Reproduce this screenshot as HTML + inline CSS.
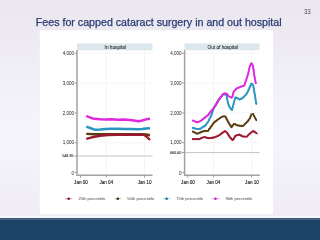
<!DOCTYPE html>
<html><head><meta charset="utf-8">
<style>
html,body{margin:0;padding:0;width:320px;height:240px;overflow:hidden;background:#eeecf3;}
svg{display:block;position:absolute;left:0;top:0;will-change:transform;}
text{font-family:"Liberation Sans",sans-serif;}
</style></head>
<body>
<svg width="320" height="240" viewBox="0 0 320 240">
<defs>
<linearGradient id="bg" x1="0" y1="0" x2="0" y2="1">
<stop offset="0" stop-color="#eae7ee"/><stop offset="0.2" stop-color="#eeebf2"/><stop offset="0.45" stop-color="#f5f3fa"/><stop offset="0.62" stop-color="#f6f4fb"/><stop offset="0.85" stop-color="#f0eef4"/><stop offset="1" stop-color="#eeecf2"/>
</linearGradient>
</defs>
<rect x="0" y="0" width="320" height="240" fill="url(#bg)"/>
<text x="304.3" y="14" font-size="7.6" fill="#444" textLength="6.3" lengthAdjust="spacingAndGlyphs">33</text>
<text x="35.8" y="26" font-size="10.66" fill="#283a74" stroke="#283a74" stroke-width="0.25">Fees for capped cataract surgery in and out hospital</text>
<rect x="39.8" y="30.3" width="233.2" height="183.8" fill="#ffffff"/>
<!-- bottom band -->
<rect x="0" y="216.6" width="320" height="1.2" fill="#fbfafd"/>
<rect x="0" y="218.2" width="320" height="1.4" fill="#10305a"/>
<rect x="0" y="219.6" width="320" height="20.4" fill="#1b4367"/>

<!-- LEFT PANEL -->
<g id="left">
<rect x="77" y="43.4" width="75.5" height="6.9" fill="#dbe7ed"/>
<text x="115.3" y="48.9" font-size="4.7" text-anchor="middle" fill="#222" stroke="#222" stroke-width="0.06">In hospital</text>
<g stroke="#eeeeee" stroke-width="0.6">
<line x1="77" y1="53.3" x2="152.5" y2="53.3"/>
<line x1="77" y1="83.1" x2="152.5" y2="83.1"/>
<line x1="77" y1="113" x2="152.5" y2="113"/>
<line x1="77" y1="142.7" x2="152.5" y2="142.7"/>
<line x1="106" y1="50" x2="106" y2="175"/>
<line x1="144.5" y1="50" x2="144.5" y2="175"/>
</g>
<line x1="77" y1="156" x2="152.5" y2="156" stroke="#b4b4b4" stroke-width="0.8"/>
<g stroke="#888888" stroke-width="0.8" fill="none">
<polyline stroke="#a2a2a2" stroke-width="1.5" points="77,50 77,175.3 152.5,175.3"/>
<line x1="74.5" y1="53.3" x2="76.8" y2="53.3"/>
<line x1="74.5" y1="83.1" x2="76.8" y2="83.1"/>
<line x1="74.5" y1="113" x2="76.8" y2="113"/>
<line x1="74.5" y1="142.7" x2="76.8" y2="142.7"/>
<line x1="74.5" y1="156" x2="76.8" y2="156"/>
<line x1="74.5" y1="172.4" x2="76.8" y2="172.4"/>
<line x1="80.5" y1="175.5" x2="80.5" y2="177.5"/>
<line x1="106.3" y1="175.5" x2="106.3" y2="177.5"/>
<line x1="144.5" y1="175.5" x2="144.5" y2="177.5"/>
</g>
<g font-size="4.5" fill="#222" text-anchor="end">
<text x="74" y="55">4,000</text>
<text x="74" y="84.8">3,000</text>
<text x="74" y="114.7">2,000</text>
<text x="74" y="144.4">1,000</text>
<text x="73.5" y="157.3" font-size="3.7" stroke="#222" stroke-width="0.06">548.85</text>
<text x="74" y="174.6">0</text>
</g>
<g font-size="4.6" fill="#222" stroke="#222" stroke-width="0.12" text-anchor="middle">
<text x="81" y="183.8">Jan 00</text>
<text x="106.3" y="183.8">Jan 04</text>
<text x="144.6" y="183.8">Jan 10</text>
</g>
<g fill="none" stroke-width="2.4" stroke-linejoin="round" stroke-linecap="butt">
<polyline stroke="#5b3d12" points="86.3,133.9 95,134.2 105,134.2 115,134.2 125,134.2 135,134.3 142,134.3 146,134.5 150,135.2"/>
<polyline stroke="#9a1830" points="86.3,138.8 92,137.3 100,135.8 108,135 118,134.8 128,134.7 138,134.6 144,134.8 147,137 150,140"/>
<polyline stroke="#2895c2" points="86.3,126.7 90,128 94.7,129.7 100,129.5 106,129 112,128.7 118,128.8 124,129 130,129 138,129.2 142,129 146,128.5 150,128.3"/>
<polyline stroke="#df27de" points="86.3,115.8 90,117.5 94,118.8 100,119.3 106,119.5 112,119.3 118,119.7 124,119.5 130,120 134,120.5 138.3,121.3 142,120.5 146,119.3 150,118.8"/>
</g>
</g>

<!-- RIGHT PANEL -->
<g id="right">
<rect x="184.5" y="43.4" width="75" height="6.9" fill="#dbe7ed"/>
<text x="222.7" y="48.9" font-size="4.7" text-anchor="middle" fill="#222" stroke="#222" stroke-width="0.06">Out of hospital</text>
<g stroke="#eeeeee" stroke-width="0.6">
<line x1="184" y1="53.3" x2="259.5" y2="53.3"/>
<line x1="184" y1="83.1" x2="259.5" y2="83.1"/>
<line x1="184" y1="113" x2="259.5" y2="113"/>
<line x1="184" y1="142.7" x2="259.5" y2="142.7"/>
<line x1="213.5" y1="50" x2="213.5" y2="175"/>
<line x1="251.6" y1="50" x2="251.6" y2="175"/>
</g>
<line x1="184" y1="152.6" x2="259.5" y2="152.6" stroke="#b4b4b4" stroke-width="0.8"/>
<g stroke="#888888" stroke-width="0.8" fill="none">
<polyline stroke="#a2a2a2" stroke-width="1.5" points="184.6,50 184.6,175.3 259.8,175.3"/>
<line x1="181.9" y1="53.3" x2="184.2" y2="53.3"/>
<line x1="181.9" y1="83.1" x2="184.2" y2="83.1"/>
<line x1="181.9" y1="113" x2="184.2" y2="113"/>
<line x1="181.9" y1="142.7" x2="184.2" y2="142.7"/>
<line x1="181.9" y1="152.6" x2="184.2" y2="152.6"/>
<line x1="181.9" y1="172.4" x2="184.2" y2="172.4"/>
<line x1="187.9" y1="175.5" x2="187.9" y2="177.5"/>
<line x1="213.7" y1="175.5" x2="213.7" y2="177.5"/>
<line x1="251.6" y1="175.5" x2="251.6" y2="177.5"/>
</g>
<g font-size="4.5" fill="#222" text-anchor="end">
<text x="181.5" y="55">4,000</text>
<text x="181.5" y="84.8">3,000</text>
<text x="181.5" y="114.7">2,000</text>
<text x="181.5" y="144.4">1,000</text>
<text x="181.2" y="153.9" font-size="3.7" stroke="#222" stroke-width="0.06">660.60</text>
<text x="181.5" y="174.6">0</text>
</g>
<g font-size="4.6" fill="#222" stroke="#222" stroke-width="0.12" text-anchor="middle">
<text x="188" y="183.8">Jan 00</text>
<text x="213.5" y="183.8">Jan 04</text>
<text x="252" y="183.8">Jan 10</text>
</g>
<g fill="none" stroke-linejoin="round" stroke-linecap="round">
<g id="rr" stroke="#9a1830"><polyline stroke-width="1.3" points="193,139.2 199,139.2 204,137 209,138.3 214,137.5 218.75,135.6 222.5,132.8 225.3,131 227.2,132.8 230,137.5 232.8,140.3 235.6,135.6 239.4,134.7 243.1,136.6 246.9,136.6 250.6,132.8 253.5,131 257.2,133.75"/><polyline stroke-width="2.3" stroke-dasharray="0 2.0" points="193,139.2 199,139.2 204,137 209,138.3 214,137.5 218.75,135.6 222.5,132.8 225.3,131 227.2,132.8 230,137.5 232.8,140.3 235.6,135.6 239.4,134.7 243.1,136.6 246.9,136.6 250.6,132.8 253.5,131 257.2,133.75"/></g>
<g id="rb" stroke="#5b3d12"><polyline stroke-width="1.3" points="193,131.7 197.3,133.8 203,131.3 208,130.8 210.5,127.5 214,122.5 219,118.8 222.75,116.3 225.25,116.3 229,123.5 231.5,127.2 234,123.8 237.75,125.5 242.75,126.2 247.75,121.3 250,118 251.5,114.5 253,114 254.2,116.2 256.5,120.5"/><polyline stroke-width="2.3" stroke-dasharray="0 2.0" points="193,131.7 197.3,133.8 203,131.3 208,130.8 210.5,127.5 214,122.5 219,118.8 222.75,116.3 225.25,116.3 229,123.5 231.5,127.2 234,123.8 237.75,125.5 242.75,126.2 247.75,121.3 250,118 251.5,114.5 253,114 254.2,116.2 256.5,120.5"/></g>
<g id="rt" stroke="#2895c2"><polyline stroke-width="1.3" points="193,128 197.5,129.2 200.5,128.8 203.2,126.7 205,126 208.2,121.7 209.8,118.3 211.5,115 213.5,108.6 215.7,105.3 219,99.6 222,95.8 224,93.6 226.5,95.5 228.1,103.75 230,108 232,110 233.8,103 235.3,97.2 237.5,98.3 240,99.6 243.3,97.5 246.5,94 248.3,90.8 250,86.7 251.7,83.3 253.3,85.8 255,95.8 256.3,104"/><polyline stroke-width="2.3" stroke-dasharray="0 2.0" points="193,128 197.5,129.2 200.5,128.8 203.2,126.7 205,126 208.2,121.7 209.8,118.3 211.5,115 213.5,108.6 215.7,105.3 219,99.6 222,95.8 224,93.6 226.5,95.5 228.1,103.75 230,108 232,110 233.8,103 235.3,97.2 237.5,98.3 240,99.6 243.3,97.5 246.5,94 248.3,90.8 250,86.7 251.7,83.3 253.3,85.8 255,95.8 256.3,104"/></g>
<g id="rm" stroke="#df27de"><polyline stroke-width="1.3" points="193,120.6 197.3,122.5 201,120.8 204,118.3 208.2,115 211.5,110.5 213.5,108.3 215.7,105 219,99.3 222,95.5 224,93.3 226.5,93.6 229,96.5 232,97.8 233.75,91.5 236.6,88.5 240.8,86.7 244.2,85.8 246.7,78.3 248.3,73.3 249.7,66.7 251.3,63 253,65.8 254.2,75 255.8,83.3"/><polyline stroke-width="2.3" stroke-dasharray="0 2.0" points="193,120.6 197.3,122.5 201,120.8 204,118.3 208.2,115 211.5,110.5 213.5,108.3 215.7,105 219,99.3 222,95.5 224,93.3 226.5,93.6 229,96.5 232,97.8 233.75,91.5 236.6,88.5 240.8,86.7 244.2,85.8 246.7,78.3 248.3,73.3 249.7,66.7 251.3,63 253,65.8 254.2,75 255.8,83.3"/></g>
</g>
</g>

<!-- LEGEND -->
<g stroke-width="0.6" stroke-opacity="0.75">
<line x1="65" y1="198.7" x2="72.2" y2="198.7" stroke="#9a1830"/>
<circle cx="68.7" cy="198.7" r="1.25" fill="#7d1430"/>
<line x1="114.7" y1="198.7" x2="120.9" y2="198.7" stroke="#5b3d12"/>
<circle cx="117.8" cy="198.7" r="1.25" fill="#3e2a0c"/>
<line x1="163.1" y1="198.7" x2="170.2" y2="198.7" stroke="#2895c2"/>
<circle cx="166.6" cy="198.7" r="1.25" fill="#1f6f92"/>
<line x1="211.6" y1="198.7" x2="219.4" y2="198.7" stroke="#df27de"/>
<circle cx="215.5" cy="198.7" r="1.25" fill="#b820c0"/>
</g>
<g font-size="4.1" fill="#444">
<text x="78.5" y="200.3">25th percentile</text>
<text x="127.3" y="200.3">50th percentile</text>
<text x="176.2" y="200.3">75th percentile</text>
<text x="225.4" y="200.3">90th percentile</text>
</g>
</svg>
</body></html>
